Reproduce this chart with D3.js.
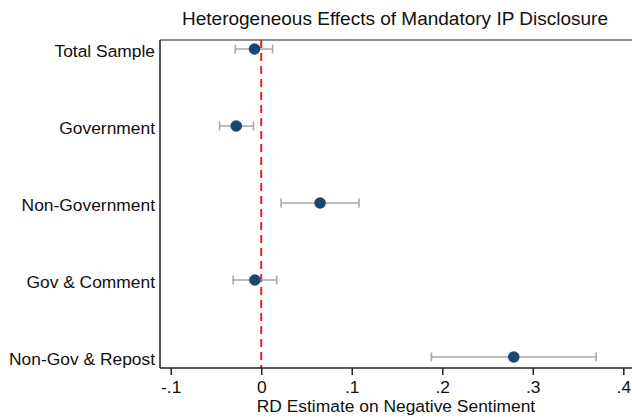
<!DOCTYPE html>
<html>
<head>
<meta charset="utf-8">
<script src="https://cdn.jsdelivr.net/npm/d3@7"></script>
<style>
    body { margin: 0; background: #fff; }
    text { font-family: "Liberation Sans", Arial, sans-serif; fill: #111; }
</style>
</head>
<body>
<script>
// Data
var groups = ["Total Sample", "Government", "Non-Government",
              "Gov & Comment", "Non-Gov & Repost"];
var estimates = [-0.0074, -0.0276, 0.065, -0.007, 0.279];
var lower = [-0.0287, -0.046, 0.022, -0.031, 0.188];
var upper = [0.0125, -0.0085, 0.108, 0.017, 0.370];
var xTicks = [-0.1, 0, 0.1, 0.2, 0.3, 0.4];

var width = 632, height = 419;
var margin = {top: 40, right: 0, bottom: 51, left: 160};
var fontSize = "17.4px";

var svg = d3.select("body").append("svg")
    .attr("width", width)
    .attr("height", height);

// x(0) sits at 261, one tenth spans about 90.5px
var x = d3.scaleLinear()
    .domain([-0.1, 0.4])
    .range([170.7, 623.3]);

var y = d3.scalePoint()
    .domain(groups)
    .range([49, 357]);

var plotBottom = height - margin.bottom;

// frame: top line and left axis
svg.append("line")
    .attr("x1", margin.left).attr("x2", width)
    .attr("y1", margin.top).attr("y2", margin.top)
    .attr("stroke", "#222").attr("stroke-width", 1.2);

// reference line at zero
svg.append("line")
    .attr("x1", x(0)).attr("x2", x(0))
    .attr("y1", margin.top).attr("y2", plotBottom)
    .attr("stroke", "#e3222b")
    .attr("stroke-width", 2)
    .attr("stroke-dasharray", "8,5");

// x axis, Stata style labels: "-.1", "0", ".1"
var xAxis = svg.append("g")
    .attr("transform", "translate(0," + plotBottom + ")")
    .call(d3.axisBottom(x)
        .tickValues(xTicks)
        .tickSize(7)
        .tickPadding(5.5)
        .tickFormat(function(d) {
            if (d === 0) return "0";
            return (d < 0 ? "-" : "") + Math.abs(d).toFixed(1).replace("0.", ".");
        }));
xAxis.select(".domain")
    .attr("d", "M" + margin.left + ",0H" + width)
    .attr("stroke", "#222").attr("stroke-width", 1.5);
xAxis.selectAll(".tick line").attr("stroke", "#222").attr("stroke-width", 1.5);
xAxis.selectAll(".tick text")
    .style("font-size", fontSize)
    .style("font-family", "'Liberation Sans', Arial, sans-serif")
    .attr("fill", "#111");

// y axis
var yAxis = svg.append("g")
    .attr("transform", "translate(" + margin.left + ",0)")
    .call(d3.axisLeft(y).tickSize(0).tickPadding(5));
yAxis.select(".domain")
    .attr("d", "M0," + margin.top + "V" + plotBottom)
    .attr("stroke", "#222").attr("stroke-width", 1.5);
yAxis.selectAll(".tick text")
    .attr("dy", "0.45em")
    .style("font-size", fontSize)
    .style("font-family", "'Liberation Sans', Arial, sans-serif")
    .attr("fill", "#111");

// confidence intervals
var rows = svg.append("g").selectAll("g")
    .data(groups)
    .enter().append("g");

rows.append("line")
    .attr("x1", function(d, i) { return x(lower[i]); })
    .attr("x2", function(d, i) { return x(upper[i]); })
    .attr("y1", function(d) { return y(d); })
    .attr("y2", function(d) { return y(d); })
    .attr("stroke", "#a9a9a9").attr("stroke-width", 1.6);

[lower, upper].forEach(function(arr) {
    rows.append("line")
        .attr("x1", function(d, i) { return x(arr[i]); })
        .attr("x2", function(d, i) { return x(arr[i]); })
        .attr("y1", function(d) { return y(d) - 4.5; })
        .attr("y2", function(d) { return y(d) + 4.5; })
        .attr("stroke", "#a9a9a9").attr("stroke-width", 1.6);
});

// point estimates
rows.append("circle")
    .attr("cx", function(d, i) { return x(estimates[i]); })
    .attr("cy", function(d) { return y(d); })
    .attr("r", 5.8)
    .attr("fill", "#1a476f");

// title and x label
svg.append("text")
    .attr("x", 395).attr("y", 25)
    .attr("text-anchor", "middle")
    .style("font-size", "19px")
    .text("Heterogeneous Effects of Mandatory IP Disclosure");

svg.append("text")
    .attr("x", 396).attr("y", 412)
    .attr("text-anchor", "middle")
    .style("font-size", fontSize)
    .text("RD Estimate on Negative Sentiment");
</script>
</body>
</html>
